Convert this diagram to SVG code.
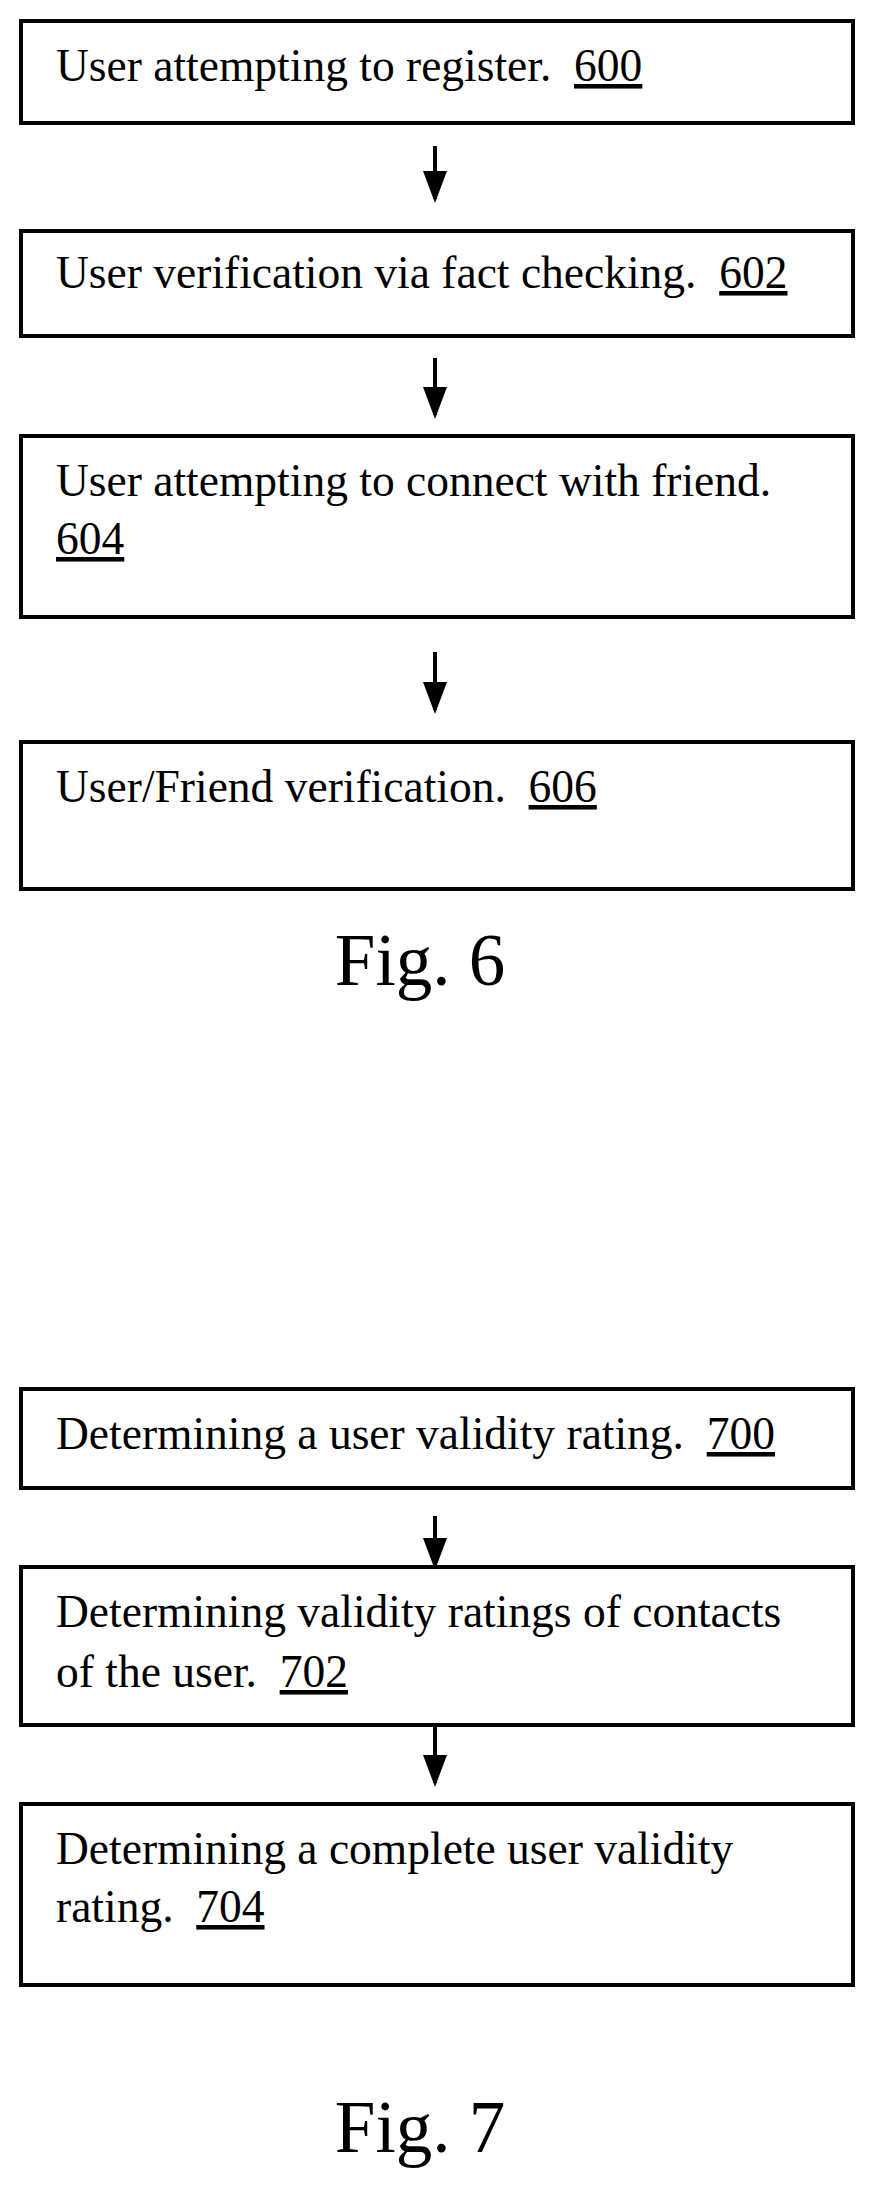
<svg xmlns="http://www.w3.org/2000/svg" width="875" height="2185" viewBox="0 0 875 2185">
<style>
.b{fill:#fff;stroke:#000;stroke-width:4}
.t{font-family:"Liberation Serif",serif;font-size:45.5px;fill:#000;white-space:pre}
.f{font-family:"Liberation Serif",serif;font-size:73px;fill:#000}
.c line{stroke:#000;stroke-width:4}
</style>
<defs><marker id="a" markerWidth="8" markerHeight="6" refX="7" refY="3" orient="auto" markerUnits="strokeWidth"><path d="M0,0 L8,3 L0,6 Z" fill="#000"/></marker></defs>
<rect width="875" height="2185" fill="#fff"/>
<g class="c">
<line x1="435" y1="146" x2="435" y2="199" marker-end="url(#a)"/>
<line x1="435" y1="358" x2="435" y2="415" marker-end="url(#a)"/>
<line x1="435" y1="652" x2="435" y2="710" marker-end="url(#a)"/>
<line x1="435" y1="1516" x2="435" y2="1566" marker-end="url(#a)"/>
<line x1="435" y1="1727" x2="435" y2="1783" marker-end="url(#a)"/>
</g>
<g id="n600"><rect class="b" x="21" y="21" width="832" height="102"/><text class="t" x="56" y="81" xml:space="preserve">User attempting to register.  <tspan text-decoration="underline">600</tspan></text></g>
<g id="n602"><rect class="b" x="21" y="231" width="832" height="105"/><text class="t" x="56" y="288" xml:space="preserve">User verification via fact checking.  <tspan text-decoration="underline">602</tspan></text></g>
<g id="n604"><rect class="b" x="21" y="436" width="832" height="181"/><text class="t" x="56" y="496">User attempting to connect with friend.</text><text class="t" x="56" y="554" text-decoration="underline">604</text></g>
<g id="n606"><rect class="b" x="21" y="742" width="832" height="147"/><text class="t" x="56" y="802" xml:space="preserve">User/Friend verification.  <tspan text-decoration="underline">606</tspan></text></g>
<text class="f" x="420" y="985" text-anchor="middle">Fig. 6</text>
<g id="n700"><rect class="b" x="21" y="1389" width="832" height="99"/><text class="t" x="56" y="1449" xml:space="preserve">Determining a user validity rating.  <tspan text-decoration="underline">700</tspan></text></g>
<g id="n702"><rect class="b" x="21" y="1567" width="832" height="158"/><text class="t" x="56" y="1627">Determining validity ratings of contacts</text><text class="t" x="56" y="1687" xml:space="preserve">of the user.  <tspan text-decoration="underline">702</tspan></text></g>
<g id="n704"><rect class="b" x="21" y="1804" width="832" height="181"/><text class="t" x="56" y="1864">Determining a complete user validity</text><text class="t" x="56" y="1922" xml:space="preserve">rating.  <tspan text-decoration="underline">704</tspan></text></g>
<text class="f" x="420" y="2152" text-anchor="middle">Fig. 7</text>
</svg>
